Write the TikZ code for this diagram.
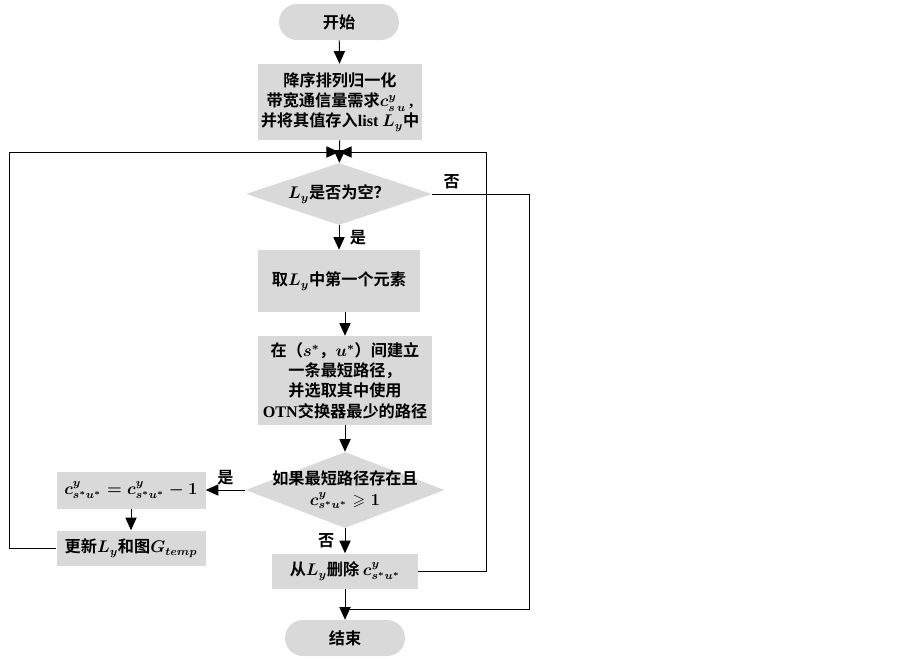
\documentclass[tikz,border=0pt]{standalone}
\usepackage{amssymb}
\usepackage{fontspec}
\setmainfont{Noto Sans CJK SC}[BoldFont={Noto Sans CJK SC Bold}]
\newfontfamily\latfont{Liberation Serif}
\usetikzlibrary{shapes.geometric,arrows.meta}
\definecolor{boxgray}{RGB}{217,217,217}
\tikzset{
  proc/.style={rectangle, fill=boxgray, align=center, inner sep=1pt},
  term/.style={rectangle, rounded corners=0.45cm, fill=boxgray, minimum width=3cm, minimum height=0.9cm},
  decision/.style={diamond, fill=boxgray, inner sep=0pt},
  flow/.style={-{Triangle[length=9pt,width=8pt]}, line width=0.7pt},
  link/.style={line width=0.7pt},
}
\begin{document}
\begin{tikzpicture}[font=\fontsize{11.5}{14.5}\selectfont\bfseries\boldmath]
\useasboundingbox (0,0) rectangle (22.575,-16.45);
% main column
\node[term] (start) at (8.475,-0.55) {开始};
\node[proc, minimum width=4.1cm, minimum height=1.9cm] (sort) at (8.5,-2.55)
  {降序排列归一化\\带宽通信量需求$c^{y}_{s\,u}\,${\latfont ,}\\并将其值存入{\latfont list} $L_y$中};
\coordinate (merge) at (8.475,-3.8);
\node[decision, minimum width=4.65cm, minimum height=1.55cm] (empty) at (8.475,-4.85) {};
\node (emptytext) at (empty) {$L_y$是否为空？};
\node[proc, minimum width=4.05cm, minimum height=1.55cm] (first) at (8.475,-7.025) {取$L_y$中第一个元素};
\node[proc, minimum width=4.35cm, minimum height=2.225cm] (route) at (8.625,-9.5125)
  {在（$s^*$，$u^*$）间建立\\一条最短路径，\\并选取其中使用\\{\latfont OTN}交换器最少的路径};
\node[decision, minimum width=4.975cm, minimum height=1.9cm] (check) at (8.625,-12.25) {};
\node[align=center] (checktext) at (check) {如果最短路径存在且\\$c^{y}_{s^*u^*} \geqslant 1$};
\node[proc, minimum width=3.65cm, minimum height=0.875cm] (remove) at (8.625,-14.275) {从$L_y$删除 $c^{y}_{s^*u^*}$};
\node[term] (stop) at (8.625,-15.95) {结束};
% left branch
\node[proc, minimum width=3.725cm, minimum height=0.925cm] (dec) at (3.275,-12.25) {$c^{y}_{s^*u^*} = c^{y}_{s^*u^*} - 1$};
\node[proc, minimum width=3.725cm, minimum height=0.875cm] (update) at (3.275,-13.7) {更新$L_y$和图$G_{temp}$};
% loop corners
\coordinate (lefttop) at (0.225,-3.8);
\coordinate (righttop) at (12.15,-3.8);
\coordinate (outer) at (13.225,-15.225);
\coordinate (join) at (8.625,-15.225);
% connectors
\draw[flow] (start) -- (sort);
\draw[flow] (sort) -- (empty);
\draw[flow] (empty) -- node[right, xshift=4pt] {是} (first);
\draw[flow] (first.south -| route) -- (route.north);
\draw[flow] (route) -- (check);
\draw[flow] (check.west) -- node[above] {是} (dec.east);
\draw[flow] (dec) -- (update);
\draw[flow] (check) -- node[left, xshift=-4pt] {否} (remove);
\draw[flow] (remove) -- (stop);
\draw[flow] (update.west) -| (lefttop) -- (merge);
\draw[flow] (remove.east) -| (righttop) -- (merge);
\draw[link] (empty.east) -| node[above, pos=0.1] {否} (outer) -- (join);
\end{tikzpicture}
\end{document}
